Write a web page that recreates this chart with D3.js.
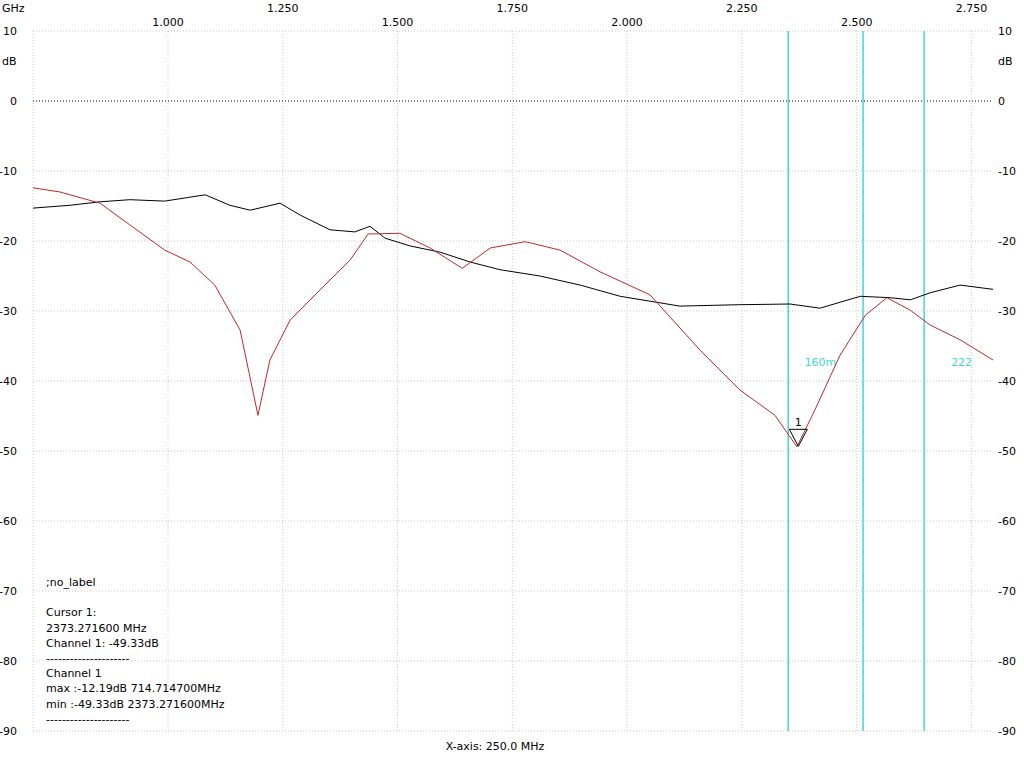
<!DOCTYPE html>
<html><head><meta charset="utf-8">
<script src="https://cdn.jsdelivr.net/npm/d3@7"></script>
<style>body{margin:0;background:#fff}text{font-family:"DejaVu Sans",sans-serif;font-size:11px}</style>
</head><body><svg id="c" width="1024" height="764"></svg>
<script>
const xTicks=[1.0,1.25,1.5,1.75,2.0,2.25,2.5,2.75];
const yTicks=[10,0,-10,-20,-30,-40,-50,-60,-70,-80,-90];
const redF=[0.706,0.765,0.852,0.917,0.993,1.048,1.102,1.157,1.196,1.222,1.266,1.331,1.397,1.436,1.505,1.571,1.641,1.702,1.778,1.854,1.941,2.050,2.159,2.246,2.322,2.370,2.410,2.464,2.519,2.566,2.617,2.660,2.725,2.797];
const redDb=[-12.4,-13,-14.6,-17.7,-21.3,-23,-26.3,-32.7,-44.9,-37,-31.3,-27,-22.7,-19,-18.9,-21,-23.9,-21,-20.1,-21.3,-24.4,-27.7,-35.6,-41.3,-44.9,-49.4,-44,-36.3,-30.6,-28.1,-29.9,-32,-34.1,-37];
const blkF=[0.706,0.786,0.852,0.917,0.993,1.081,1.135,1.179,1.244,1.288,1.353,1.407,1.440,1.473,1.527,1.593,1.658,1.723,1.810,1.898,1.985,2.115,2.246,2.355,2.420,2.508,2.573,2.617,2.660,2.725,2.797];
const blkDb=[-15.3,-14.9,-14.4,-14.1,-14.3,-13.4,-14.9,-15.6,-14.6,-16.3,-18.4,-18.7,-17.9,-19.6,-20.7,-21.6,-23,-24.1,-25,-26.3,-27.9,-29.3,-29.1,-29,-29.6,-27.9,-28.1,-28.4,-27.4,-26.3,-26.9];
const cursors=[2.351,2.514,2.647];
const cursorLabels=[{f:2.351,t:"160m"},{f:2.647,t:"222"}];
const marker={f:2.373,db:-49.33};
const info=[";no_label","","Cursor 1:","2373.271600 MHz","Channel 1: -49.33dB","---------------------","Channel 1","max :-12.19dB 714.714700MHz","min :-49.33dB 2373.271600MHz","---------------------"];

const svg=d3.select("#c");
const x=d3.scaleLinear().domain([0.706,2.797]).range([33,993]);
const y=d3.scaleLinear().domain([10,-90]).range([31,731]);
const g=svg.append("g");
g.selectAll(".vg").data([0.706,...xTicks]).join("line").attr("x1",d=>x(d)).attr("x2",d=>x(d)).attr("y1",31).attr("y2",731).attr("stroke","#c8c8c8").attr("stroke-dasharray","1,2");
g.selectAll(".hg").data(yTicks).join("line").attr("x1",33).attr("x2",993).attr("y1",d=>y(d)).attr("y2",d=>y(d)).attr("stroke",d=>d===0?"#000":"#c8c8c8").attr("stroke-dasharray","1,2");
g.selectAll(".xl").data(xTicks).join("text").attr("x",d=>x(d)).attr("y",(d,i)=>i%2===0?26:12).attr("text-anchor","middle").text(d=>d.toFixed(3));
g.append("text").attr("x",2).attr("y",12).text("GHz");
g.selectAll(".yl").data(yTicks).join("text").attr("x",17).attr("y",d=>y(d)+4).attr("text-anchor","end").text(d=>d);
g.selectAll(".yr").data(yTicks).join("text").attr("x",998).attr("y",d=>y(d)+4).text(d=>d);
g.append("text").attr("x",2).attr("y",65).text("dB");
g.append("text").attr("x",998).attr("y",65).text("dB");
g.selectAll(".cu").data(cursors).join("line").attr("x1",d=>x(d)).attr("x2",d=>x(d)).attr("y1",31).attr("y2",731).attr("stroke","#44d4dc").attr("stroke-width",1.5);
g.selectAll(".cl").data(cursorLabels).join("text").attr("x",d=>x(d.f)+48).attr("y",366).attr("text-anchor","end").attr("fill","#44d4dc").text(d=>d.t);
const line=d3.line().x(d=>x(d[0])).y(d=>y(d[1]));
g.append("path").attr("d",line(blkF.map((f,i)=>[f,blkDb[i]]))).attr("fill","none").attr("stroke","#000").attr("stroke-width",1);
g.append("path").attr("d",line(redF.map((f,i)=>[f,redDb[i]]))).attr("fill","none").attr("stroke","#c0282a").attr("stroke-width",1);
const mx=x(marker.f),my=y(marker.db);
g.append("path").attr("d",`M${mx-9},${my-17}L${mx+9},${my-17}L${mx},${my}Z`).attr("fill","none").attr("stroke","#000");
g.append("text").attr("x",mx).attr("y",my-20).attr("text-anchor","middle").text("1");
g.selectAll(".in").data(info).join("text").attr("x",46).attr("y",(d,i)=>586+i*15.2).text(d=>d);
g.append("text").attr("x",495).attr("y",750).attr("text-anchor","middle").text("X-axis: 250.0 MHz");
</script></body></html>
